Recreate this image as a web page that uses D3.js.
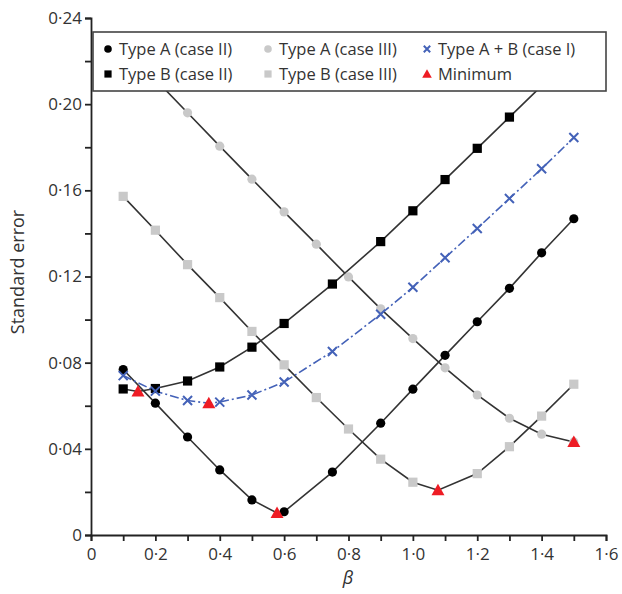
<!DOCTYPE html>
<html>
<head>
<meta charset="utf-8">
<script src="https://cdn.jsdelivr.net/npm/d3@7"></script>
<style>
  body { margin: 0; background: #fff; }
  svg text { font-family: "Open Sans", "Noto Sans", sans-serif; fill: #333; }
</style>
</head>
<body>
<svg id="chart" width="622" height="594"></svg>
<script>
// beta values (the case II / case I runs skip 0.7 and 0.8 and have a point near 0.75)
var betaCaseII = [0.1, 0.2, 0.3, 0.4, 0.5, 0.6, 0.75, 0.9, 1.0, 1.1, 1.2, 1.3, 1.4, 1.5];
var betaCaseIII = [0.1, 0.2, 0.3, 0.4, 0.5, 0.6, 0.7, 0.8, 0.9, 1.0, 1.1, 1.2, 1.3, 1.4, 1.5];
var betaBcaseIII = [0.1, 0.2, 0.3, 0.4, 0.5, 0.6, 0.7, 0.8, 0.9, 1.0, 1.2, 1.3, 1.4, 1.5];

var seAcaseII = [0.0768, 0.0612, 0.0455, 0.0302, 0.0163, 0.0108, 0.0292, 0.0519, 0.0677, 0.0834, 0.0990, 0.1145, 0.1310, 0.1468];
var seBcaseII = [0.0678, 0.0680, 0.0715, 0.0780, 0.0872, 0.0982, 0.1165, 0.1362, 0.1505, 0.1650, 0.1795, 0.1940, 0.2085, 0.2230];
var seABcaseI = [0.0740, 0.0668, 0.0624, 0.0617, 0.0650, 0.0710, 0.0852, 0.1025, 0.1150, 0.1287, 0.1423, 0.1562, 0.1700, 0.1845];
var seAcaseIII = [0.2270, 0.2115, 0.1960, 0.1805, 0.1652, 0.1500, 0.1350, 0.1198, 0.1050, 0.0912, 0.0776, 0.0650, 0.0542, 0.0468, 0.0432];
var seBcaseIII = [0.1572, 0.1415, 0.1255, 0.1102, 0.0945, 0.0790, 0.0638, 0.0492, 0.0352, 0.0245, 0.0285, 0.0410, 0.0552, 0.0700];

// minimum of each curve (beta, se)
var minAcaseII = [0.578, 0.0102];
var minBcaseII = [0.146, 0.0666];
var minABcaseI = [0.366, 0.0612];
var minAcaseIII = [1.5, 0.0432];
var minBcaseIII = [1.078, 0.0208];

var xTickValues = [0, 0.2, 0.4, 0.6, 0.8, 1.0, 1.2, 1.4, 1.6];
var xTickLabels = ['0', '0·2', '0·4', '0·6', '0·8', '1·0', '1·2', '1·4', '1·6'];
var yTickValues = [0, 0.04, 0.08, 0.12, 0.16, 0.20, 0.24];
var yTickLabels = ['0', '0·04', '0·08', '0·12', '0·16', '0·20', '0·24'];

var legendLabels = ['Type A (case II)', 'Type A (case III)', 'Type A + B (case I)',
                    'Type B (case II)', 'Type B (case III)', 'Minimum'];

var colors = { line: '#333', gray: '#c9c9c9', blue: '#4462b8', red: '#ee1c24' };

var svg = d3.select('#chart');
var x = d3.scaleLinear().domain([0, 1.6]).range([91, 606]);
var y = d3.scaleLinear().domain([0, 0.24]).range([535, 18]);

function zip(bs, ss, min) {
  var pts = bs.map(function(b, i) { return [b, ss[i]]; });
  if (min) pts.push(min);
  pts.sort(function(a, b) { return a[0] - b[0]; });
  return pts;
}

var line = d3.line().x(function(d) { return x(d[0]); }).y(function(d) { return y(d[1]); });

// marker painters
function circle(g, cx, cy, fill, r) {
  g.append('circle').attr('cx', cx).attr('cy', cy).attr('r', r || 4.6).attr('fill', fill);
}
function square(g, cx, cy, fill, h) {
  h = h || 4.6;
  g.append('rect').attr('x', cx - h).attr('y', cy - h).attr('width', 2 * h).attr('height', 2 * h).attr('fill', fill);
}
function cross(g, cx, cy, h) {
  h = h || 4.5;
  g.append('path')
    .attr('d', 'M' + (cx - h) + ',' + (cy - h) + 'L' + (cx + h) + ',' + (cy + h) +
               'M' + (cx - h) + ',' + (cy + h) + 'L' + (cx + h) + ',' + (cy - h))
    .attr('stroke', colors.blue).attr('stroke-width', 2).attr('fill', 'none');
}
function triangle(g, cx, cy, h) {
  h = h || 6.5;
  g.append('path')
    .attr('d', 'M' + cx + ',' + (cy - h) + 'L' + (cx + h) + ',' + (cy + h * 0.77) + 'L' + (cx - h) + ',' + (cy + h * 0.77) + 'Z')
    .attr('fill', colors.red);
}

var series = [
  { b: betaCaseIII, s: seAcaseIII, min: minAcaseIII, mark: function(g, a, c) { circle(g, a, c, colors.gray); }, dash: null, stroke: colors.line },
  { b: betaBcaseIII, s: seBcaseIII, min: minBcaseIII, mark: function(g, a, c) { square(g, a, c, colors.gray); }, dash: null, stroke: colors.line },
  { b: betaCaseII, s: seBcaseII, min: minBcaseII, mark: function(g, a, c) { square(g, a, c, '#000'); }, dash: null, stroke: colors.line },
  { b: betaCaseII, s: seAcaseII, min: minAcaseII, mark: function(g, a, c) { circle(g, a, c, '#000'); }, dash: null, stroke: colors.line },
  { b: betaCaseII, s: seABcaseI, min: minABcaseI, mark: function(g, a, c) { cross(g, a, c); }, dash: '9,3,2,3', stroke: colors.blue }
];

var plot = svg.append('g');
series.forEach(function(sr) {
  plot.append('path')
    .datum(zip(sr.b, sr.s, sr.min))
    .attr('d', line)
    .attr('fill', 'none')
    .attr('stroke', sr.stroke)
    .attr('stroke-width', 1.6)
    .attr('stroke-dasharray', sr.dash);
});
series.forEach(function(sr) {
  var g = plot.append('g');
  sr.b.forEach(function(b, i) { sr.mark(g, x(b), y(sr.s[i])); });
});
series.forEach(function(sr) {
  triangle(plot, x(sr.min[0]), y(sr.min[1]));
});

// axes
var yAxis = d3.axisLeft(y).tickValues(d3.range(0, 0.2401, 0.02)).tickSize(6)
  .tickFormat(function(d) {
    var i = yTickValues.findIndex(function(v) { return Math.abs(v - d) < 1e-6; });
    return i >= 0 ? yTickLabels[i] : '';
  });
var xAxis = d3.axisBottom(x).tickValues(d3.range(0, 1.6001, 0.1)).tickSize(6)
  .tickFormat(function(d) {
    var i = xTickValues.findIndex(function(v) { return Math.abs(v - d) < 1e-6; });
    return i >= 0 ? xTickLabels[i] : '';
  });

var gy = svg.append('g').attr('transform', 'translate(91,0)').call(yAxis);
var gx = svg.append('g').attr('transform', 'translate(0,535)').call(xAxis);
[gx, gy].forEach(function(g) {
  g.select('.domain').attr('stroke', '#222').attr('stroke-width', 1.8);
  g.selectAll('.tick line').attr('stroke', '#222').attr('stroke-width', 1.8);
  g.selectAll('.tick text').style('font-size', '17px').attr('fill', '#333');
});
gy.selectAll('.tick text').attr('x', -9);
gx.selectAll('.tick text').attr('y', 13);

svg.append('text')
  .attr('transform', 'translate(24,272) rotate(-90)')
  .attr('text-anchor', 'middle')
  .style('font-size', '18px')
  .text('Standard error');
svg.append('text')
  .attr('x', 348).attr('y', 584)
  .attr('text-anchor', 'middle')
  .style('font-size', '18px').style('font-style', 'italic')
  .text('β');

// legend
var lg = svg.append('g');
lg.append('rect').attr('x', 93).attr('y', 32).attr('width', 513).attr('height', 59)
  .attr('fill', '#fff').attr('stroke', '#444').attr('stroke-width', 1.6);
var colX = [108, 268, 427];
var rowY = [49, 74];
var legendMarks = [
  function(g, a, c) { circle(g, a, c, '#000', 3.8); },
  function(g, a, c) { circle(g, a, c, colors.gray, 3.8); },
  function(g, a, c) { cross(g, a, c, 3.2); },
  function(g, a, c) { square(g, a, c, '#000', 3.6); },
  function(g, a, c) { square(g, a, c, colors.gray, 3.6); },
  function(g, a, c) { triangle(g, a, c, 4.8); }
];
legendLabels.forEach(function(lbl, i) {
  var cx = colX[i % 3], cy = rowY[Math.floor(i / 3)];
  var g = lg.append('g');
  legendMarks[i](g, cx, cy);
  g.append('text').attr('x', cx + 11).attr('y', cy).attr('dy', '0.35em')
    .style('font-size', '16.5px').text(lbl);
});
</script>
</body>
</html>
